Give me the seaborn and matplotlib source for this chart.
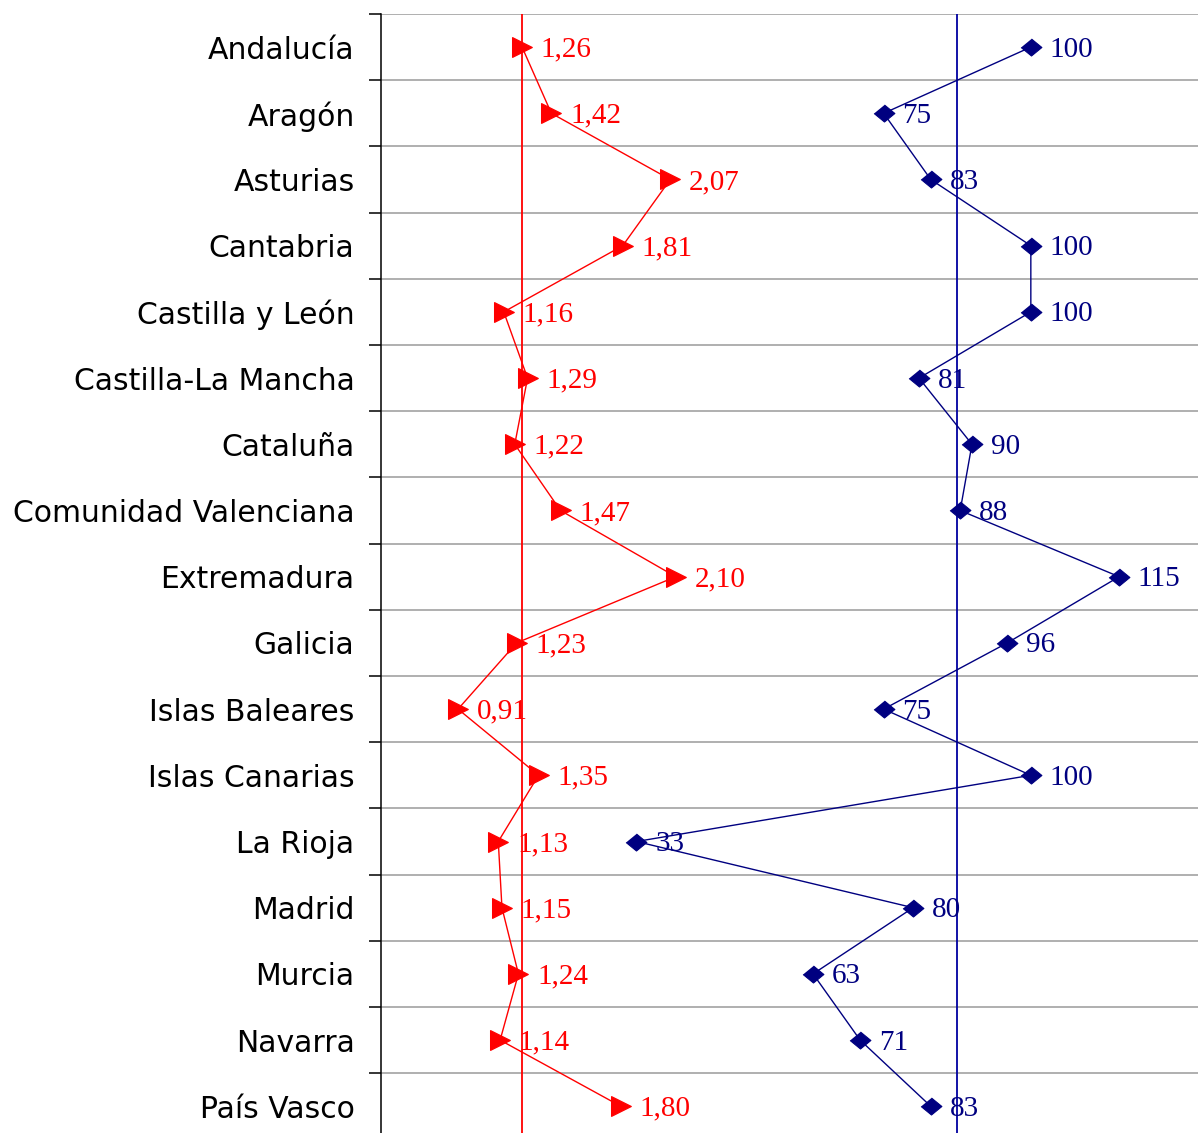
import numpy as np
import pandas as pd
import seaborn as sns
import matplotlib
matplotlib.use('Agg')
import matplotlib.pyplot as plt
from matplotlib.ticker import FixedLocator

# data
regions = ['Andalucía', 'Aragón', 'Asturias', 'Cantabria', 'Castilla y León',
           'Castilla-La Mancha', 'Cataluña', 'Comunidad Valenciana', 'Extremadura',
           'Galicia', 'Islas Baleares', 'Islas Canarias', 'La Rioja', 'Madrid',
           'Murcia', 'Navarra', 'País Vasco']
ratio = [1.26, 1.42, 2.07, 1.81, 1.16, 1.29, 1.22, 1.47, 2.10,
         1.23, 0.91, 1.35, 1.13, 1.15, 1.24, 1.14, 1.80]
index_vals = [100, 75, 83, 100, 100, 81, 90, 88, 115,
              96, 75, 100, 33, 80, 63, 71, 83]
ratio_ref = 1.26
index_ref = 87.5

red = '#ff0000'
navy = '#000080'

df = pd.DataFrame({'region': regions, 'pos': np.arange(len(regions)),
                   'ratio': ratio, 'index': index_vals})

sns.set_style('white')
plt.rcParams['font.family'] = ['DejaVu Sans']

fig = plt.figure(figsize=(11.98, 11.33), dpi=100)
ax = fig.add_axes([381 / 1198, 1 - 1139.4 / 1133, 1 - 381 / 1198, 17 * 66.2 / 1133])
ax2 = ax.twiny()

sns.lineplot(data=df, x='ratio', y='pos', orient='y', sort=False, ax=ax,
             color=red, lw=1.0, marker='>', markersize=14,
             markeredgecolor=red, markerfacecolor=red, errorbar=None)
diamond = [(-1, 0), (0, -0.82), (1, 0), (0, 0.82)]
sns.lineplot(data=df, x='index', y='pos', orient='y', sort=False, ax=ax2,
             color=navy, lw=1.0, marker=diamond, markersize=15,
             markeredgecolor=navy, markerfacecolor=navy, errorbar=None)

ax.axvline(ratio_ref, color=red, lw=1.3, zorder=1)
ax2.axvline(index_ref, color='#0000a0', lw=1.3, zorder=1)

for i, (r, v) in enumerate(zip(ratio, index_vals)):
    ax.annotate(f'{r:.2f}'.replace('.', ','), (r, i), xytext=(13.5, -1.8),
                textcoords='offset points', ha='left', va='center',
                color=red, fontsize=21, family='Liberation Serif')
    ax2.annotate(f'{v}', (v, i), xytext=(13.5, -1.8),
                 textcoords='offset points', ha='left', va='center',
                 color=navy, fontsize=21, family='Liberation Serif')

ax.set_xlim(0.489, 4.954)
ax2.set_xlim(-10.4, 128.4)
ax.set_ylim(16.5, -0.5)

bounds = np.arange(-0.5, 17, 1.0)
ax.yaxis.set_major_locator(FixedLocator(bounds))
ax.yaxis.set_major_formatter(plt.NullFormatter())
ax.yaxis.set_minor_locator(FixedLocator(np.arange(17)))
ax.set_yticklabels(regions, minor=True)
ax.tick_params(axis='y', which='major', length=8.6, width=1.1, color='black', left=True)
ax.tick_params(axis='y', which='minor', length=0, pad=19, labelsize=21.5, labelcolor='black')
ax.grid(axis='y', which='major', color='#9a9a9a', lw=1.1)
ax.set_axisbelow(True)

for a in (ax, ax2):
    a.set_xticks([])
    a.set_xlabel('')
    a.set_ylabel('')
    for s in ('top', 'right', 'bottom'):
        a.spines[s].set_visible(False)
ax2.spines['left'].set_visible(False)
ax.spines['left'].set_color('black')
ax.spines['left'].set_linewidth(1.1)

fig.savefig('out.png', dpi=100)
